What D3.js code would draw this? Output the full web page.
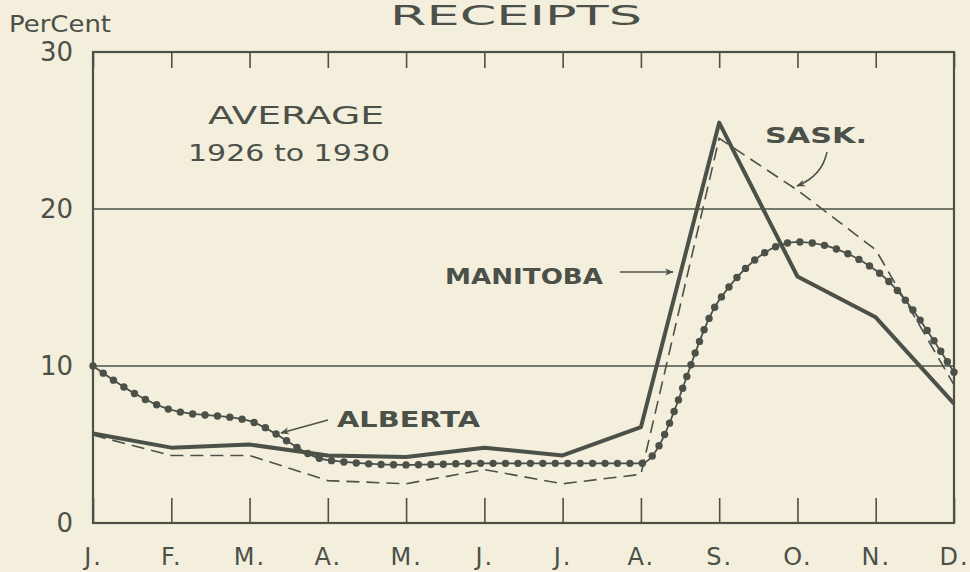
<!DOCTYPE html>
<html lang="en">
<head>
    <meta charset="UTF-8">
    <title>Receipts</title>
    <style>
        body { margin: 0; background: #f3efdc; }
        #chart-container { width: 970px; height: 572px; }
        text { font-family: "DejaVu Sans", sans-serif; fill: #4b5049; }
    </style>
    <script src="https://cdnjs.cloudflare.com/ajax/libs/d3/7.8.5/d3.min.js"></script>
</head>
<body>
    <div id="chart-container"></div>

    <script>
        // Months and monthly receipts (per cent of year), average 1926 to 1930
        const months = ["J.", "F.", "M.", "A.", "M. ", "J. ", "J.  ", "A. ", "S.", "O.", "N.", "D."];
        const manitoba = [5.7, 4.8, 5.0, 4.3, 4.2, 4.8, 4.3, 6.1, 25.5, 15.7, 13.1, 7.6];
        const sask = [5.6, 4.3, 4.3, 2.7, 2.5, 3.4, 2.5, 3.1, 24.5, 21.2, 17.4, 8.8];
        const alberta = [10.0, 7.2, 6.5, 4.0, 3.7, 3.8, 3.8, 3.8, 14.2, 17.9, 16.1, 9.6];
        const yTicks = [0, 10, 20, 30];

        const margin = { top: 52, right: 16, bottom: 49, left: 93 };
        const width = 970 - margin.left - margin.right;
        const height = 572 - margin.top - margin.bottom;
        const ink = "#4b5049";

        const root = d3.select("#chart-container")
            .append("svg")
            .attr("width", 970)
            .attr("height", 572);

        const svg = root.append("g")
            .attr("transform", `translate(${margin.left}, ${margin.top})`);

        const x = d3.scalePoint().domain(months).range([0, width]);
        const y = d3.scaleLinear().domain([0, 30]).range([height, 0]);

        // gridlines at 10 and 20
        svg.selectAll(".grid")
            .data([10, 20])
            .enter()
            .append("line")
            .attr("x1", 0).attr("x2", width)
            .attr("y1", d => y(d)).attr("y2", d => y(d))
            .style("stroke", ink).style("stroke-width", 1.3);

        // bottom axis: ticks point up into the plot
        const xAxis = svg.append("g")
            .attr("transform", `translate(0, ${height})`)
            .call(d3.axisBottom(x).tickSize(-25).tickPadding(25));
        xAxis.select(".domain").remove();
        xAxis.selectAll("line").style("stroke", ink).style("stroke-width", 1.6);
        xAxis.selectAll("text")
            .style("font-size", "24px")
            .style("fill", ink)
            .style("letter-spacing", "2px")
            .text(d => d.trim());

        // top ticks pointing down
        const topAxis = svg.append("g")
            .call(d3.axisTop(x).tickSize(-16).tickFormat(""));
        topAxis.select(".domain").remove();
        topAxis.selectAll("line").style("stroke", ink).style("stroke-width", 1.6);

        // y labels
        const yAxis = svg.append("g")
            .call(d3.axisLeft(y).tickValues(yTicks).tickSize(0).tickPadding(20));
        yAxis.select(".domain").remove();
        yAxis.selectAll("text").style("font-size", "26px").style("fill", ink);

        // frame
        svg.append("rect")
            .attr("width", width).attr("height", height)
            .style("fill", "none").style("stroke", ink).style("stroke-width", 2.2);

        // Saskatchewan: thin dashed
        const lineSask = d3.line()
            .x((d, i) => x(months[i]))
            .y(d => y(d));
        svg.append("path")
            .attr("d", lineSask(sask))
            .style("fill", "none").style("stroke", ink)
            .style("stroke-width", 1.6).style("stroke-dasharray", "13,7");

        // Manitoba: heavy solid
        svg.append("path")
            .attr("d", lineSask(manitoba))
            .style("fill", "none").style("stroke", ink)
            .style("stroke-width", 4).style("stroke-linejoin", "round");

        // Alberta: smooth line of beads
        const lineAlb = d3.line()
            .x((d, i) => x(months[i]))
            .y(d => y(d))
            .curve(d3.curveMonotoneX);
        const albPath = svg.append("path")
            .attr("d", lineAlb(alberta))
            .style("fill", "none").style("stroke", ink).style("stroke-width", 1.8);

        const node = albPath.node();
        const total = node.getTotalLength();
        const step = 12.5;
        const beads = d3.range(0, total + 0.1, total / Math.round(total / step))
            .map(l => node.getPointAtLength(l));
        svg.selectAll(".bead")
            .data(beads)
            .enter()
            .append("circle")
            .attr("class", "bead")
            .attr("cx", d => d.x).attr("cy", d => d.y)
            .attr("r", 3.7)
            .style("fill", ink);

        // titles and labels
        root.append("text").attr("x", 390).attr("y", 25)
            .attr("textLength", 252).attr("lengthAdjust", "spacingAndGlyphs")
            .style("font-size", "27px").text("RECEIPTS");
        root.append("text").attr("x", 9).attr("y", 32)
            .attr("textLength", 102).attr("lengthAdjust", "spacingAndGlyphs")
            .style("font-size", "23px").text("PerCent");
        root.append("text").attr("x", 208).attr("y", 124)
            .attr("textLength", 176).attr("lengthAdjust", "spacingAndGlyphs")
            .style("font-size", "25px").text("AVERAGE");
        root.append("text").attr("x", 188).attr("y", 161)
            .attr("textLength", 202).attr("lengthAdjust", "spacingAndGlyphs")
            .style("font-size", "23px").text("1926 to 1930");

        const labels = [
            { t: "MANITOBA", x: 445, y: 284, w: 158 },
            { t: "ALBERTA", x: 337, y: 427, w: 143 },
            { t: "SASK.", x: 765, y: 143, w: 102 }
        ];
        root.selectAll(".lab")
            .data(labels)
            .enter()
            .append("text")
            .attr("x", d => d.x).attr("y", d => d.y)
            .attr("textLength", d => d.w).attr("lengthAdjust", "spacingAndGlyphs")
            .style("font-size", "22px").style("font-weight", "bold")
            .text(d => d.t);

        // arrows
        root.append("defs").append("marker")
            .attr("id", "head")
            .attr("viewBox", "0 0 10 10")
            .attr("refX", 9).attr("refY", 5)
            .attr("markerWidth", 9).attr("markerHeight", 9)
            .attr("orient", "auto")
            .attr("markerUnits", "userSpaceOnUse")
            .append("path")
            .attr("d", "M0,1 L10,5 L0,9 L3,5 Z")
            .style("fill", ink);

        const arrows = [
            "M620,272 L673,272",
            "M328,420 L281,433",
            "M827,152 Q822,176 797,186"
        ];
        root.selectAll(".arrow")
            .data(arrows)
            .enter()
            .append("path")
            .attr("d", d => d)
            .style("fill", "none").style("stroke", ink).style("stroke-width", 1.5)
            .attr("marker-end", "url(#head)");
    </script>
</body>
</html>
